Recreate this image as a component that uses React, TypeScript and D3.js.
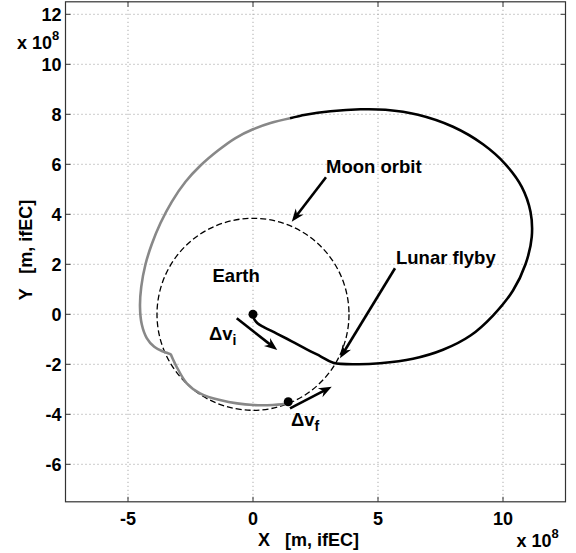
import React from "react";
import * as d3 from "d3";

// axis ticks (units of 1e8 m)
const xTicks = [-5, 0, 5, 10];
const yTicks = [-6, -4, -2, 0, 2, 4, 6, 8, 10, 12];

// moon orbit radius
const moonRadius = 3.84;

// spacecraft trajectory, first (black) leg: Earth -> flyby -> outer loop
const blackLegX = [0, 0.04, 0.18, 0.45, 0.95, 1.55, 2.15, 2.7, 3.21, 4.15, 5.08, 6.4, 7.6, 8.7, 9.6, 10.4, 10.9, 11.15, 11.1, 10.75, 10.1, 9.2, 8.0, 6.6, 5.3, 4.3, 3.1, 2.1, 1.48];
const blackLegY = [0, -0.18, -0.36, -0.52, -0.77, -1.08, -1.4, -1.68, -1.94, -2.0, -1.96, -1.78, -1.42, -0.85, -0.05, 0.95, 2.0, 3.1, 4.1, 5.1, 6.0, 6.8, 7.5, 7.98, 8.18, 8.2, 8.12, 7.98, 7.84];

// second (gray) leg: back around to the final orbit
const grayLegX = [1.48, 0.7, 0, -0.7, -1.4, -2.1, -2.7, -3.25, -3.7, -4.05, -4.3, -4.47, -4.52, -4.45, -4.25, -3.95, -3.62, -3.42, -3.3, -3.22, -3.08, -2.65, -2.12, -1.32, 0.01, 1.35, 1.41];
const grayLegY = [7.84, 7.65, 7.4, 7.05, 6.55, 5.95, 5.3, 4.5, 3.65, 2.8, 2.0, 1.1, 0.3, -0.4, -0.95, -1.3, -1.48, -1.55, -1.6, -1.76, -2.05, -2.76, -3.16, -3.43, -3.63, -3.56, -3.5];

// markers: Earth and final point
const dotX = [0, 1.41];
const dotY = [0, -3.5];

// annotation arrows [x, y] start and tip
const arrowNames = ["dvi", "dvf", "moon", "flyby"];
const arrowFrom = [[-0.65, -0.16], [1.48, -3.76], [2.92, 5.48], [5.68, 1.84]];
const arrowTo = [[0.97, -1.43], [3.15, -2.9], [1.55, 3.7], [3.48, -1.76]];

const W = 576;
const H = 553;
const margin = { left: 65.5, top: 1.8, width: 500, height: 500 };
const font = "'Liberation Sans', Arial, Helvetica, sans-serif";

function arrowHead(x0: number, y0: number, x1: number, y1: number) {
  const a = Math.atan2(y1 - y0, x1 - x0);
  const len = 13;
  const half = 5;
  const back = 4;
  const bx = x1 - len * Math.cos(a);
  const by = y1 - len * Math.sin(a);
  const px = -Math.sin(a);
  const py = Math.cos(a);
  const nx = x1 - (len - back) * Math.cos(a);
  const ny = y1 - (len - back) * Math.sin(a);
  return `M${x1},${y1}L${bx + px * half},${by + py * half}L${nx},${ny}L${bx - px * half},${by - py * half}Z`;
}

export default function App() {
  const x = d3.scaleLinear().domain([-7.5, 12.5]).range([margin.left, margin.left + margin.width]);
  const y = d3.scaleLinear().domain([-7.5, 12.5]).range([margin.top + margin.height, margin.top]);

  const line = d3
    .line<[number, number]>()
    .x((d) => x(d[0]))
    .y((d) => y(d[1]))
    .curve(d3.curveCatmullRom.alpha(0.5));

  const blackPts = blackLegX.map((v, i) => [v, blackLegY[i]] as [number, number]);
  const grayPts = grayLegX.map((v, i) => [v, grayLegY[i]] as [number, number]);

  const x0 = margin.left;
  const x1 = margin.left + margin.width;
  const y0 = margin.top;
  const y1 = margin.top + margin.height;
  const tickLen = 5;
  const axisColor = "#333";

  return (
    <svg width={W} height={H} style={{ position: "absolute", left: 0, top: 0, background: "#fff" }}>
      <rect x={0} y={0} width={W} height={H} fill="#fff" />

      {/* grid */}
      {xTicks.map((t) => (
        <line key={"gx" + t} x1={x(t)} x2={x(t)} y1={y0} y2={y1} stroke="#999" strokeWidth={1} strokeDasharray="1,3" />
      ))}
      {yTicks.map((t) => (
        <line key={"gy" + t} x1={x0} x2={x1} y1={y(t)} y2={y(t)} stroke="#999" strokeWidth={1} strokeDasharray="1,3" />
      ))}

      {/* moon orbit */}
      <circle cx={x(0)} cy={y(0)} r={x(moonRadius) - x(0)} fill="none" stroke="#000" strokeWidth={1.3} strokeDasharray="6,3" />

      {/* trajectory */}
      <path d={line(grayPts) || ""} fill="none" stroke="#888" strokeWidth={2.6} strokeLinejoin="round" />
      <path d={line(blackPts) || ""} fill="none" stroke="#000" strokeWidth={2.6} strokeLinejoin="round" />

      {dotX.map((v, i) => (
        <circle key={"dot" + i} cx={x(v)} cy={y(dotY[i])} r={4.5} fill="#000" />
      ))}

      {/* arrows */}
      {arrowNames.map((n, i) => {
        const ax0 = x(arrowFrom[i][0]);
        const ay0 = y(arrowFrom[i][1]);
        const ax1 = x(arrowTo[i][0]);
        const ay1 = y(arrowTo[i][1]);
        const a = Math.atan2(ay1 - ay0, ax1 - ax0);
        return (
          <g key={n}>
            <line x1={ax0} y1={ay0} x2={ax1 - 8 * Math.cos(a)} y2={ay1 - 8 * Math.sin(a)} stroke="#000" strokeWidth={2.6} />
            <path d={arrowHead(ax0, ay0, ax1, ay1)} fill="#000" />
          </g>
        );
      })}

      {/* annotation text */}
      <g fontFamily={font} fontWeight="bold" fontSize={18.5} fill="#000">
        <text x={326} y={172.7}>Moon orbit</text>
        <text x={396} y={264}>Lunar flyby</text>
        <text x={212.5} y={281.7}>Earth</text>
        <text x={209} y={340}>
          Δv<tspan fontSize={14} dy={5}>i</tspan>
        </text>
        <text x={291} y={426}>
          Δv<tspan fontSize={14} dy={5}>f</tspan>
        </text>
      </g>

      {/* axes box + ticks */}
      <rect x={x0} y={y0} width={margin.width} height={margin.height} fill="none" stroke={axisColor} strokeWidth={1.2} />
      {xTicks.map((t) => (
        <g key={"tx" + t}>
          <line x1={x(t)} x2={x(t)} y1={y1} y2={y1 - tickLen} stroke={axisColor} />
          <line x1={x(t)} x2={x(t)} y1={y0} y2={y0 + tickLen} stroke={axisColor} />
        </g>
      ))}
      {yTicks.map((t) => (
        <g key={"ty" + t}>
          <line x1={x0} x2={x0 + tickLen} y1={y(t)} y2={y(t)} stroke={axisColor} />
          <line x1={x1} x2={x1 - tickLen} y1={y(t)} y2={y(t)} stroke={axisColor} />
        </g>
      ))}

      <g fontFamily={font} fontWeight="bold" fontSize={18} fill="#000">
        {xTicks.map((t) => (
          <text key={"lx" + t} x={x(t)} y={525} textAnchor="middle">
            {t < 0 ? "-" + Math.abs(t) : String(t)}
          </text>
        ))}
        {yTicks.map((t) => (
          <text key={"ly" + t} x={61.5} y={y(t) + 6.5} textAnchor="end">
            {t < 0 ? "-" + Math.abs(t) : String(t)}
          </text>
        ))}

        {/* exponent labels */}
        <text x={17} y={48.5}>
          x 10<tspan fontSize={13} dy={-9}>8</tspan>
        </text>
        <text x={516.5} y={546.5}>
          x 10<tspan fontSize={13} dy={-9}>8</tspan>
        </text>

        {/* axis titles */}
        <text x={258} y={546} style={{ whiteSpace: "pre" }}>
          {"X   [m, ifEC]"}
        </text>
        <text transform="translate(31.5,250) rotate(-90)" textAnchor="middle" style={{ whiteSpace: "pre" }}>
          {"Y   [m, ifEC]"}
        </text>
      </g>
    </svg>
  );
}
